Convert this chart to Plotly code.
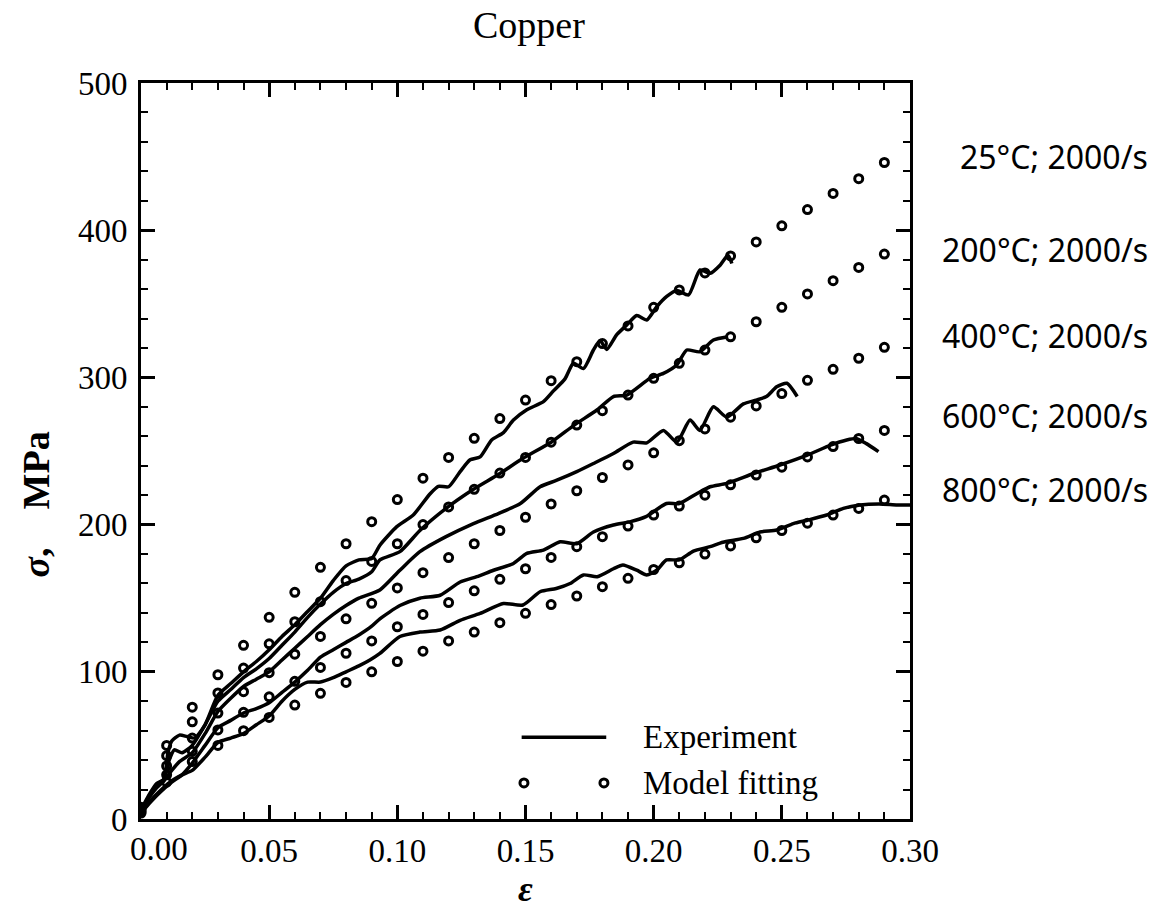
import plotly.graph_objects as go

# ---------------- data ----------------
# model-fitting points (strain step 0.01)
model_strain = [round(0.01 * i, 2) for i in range(30)]
model_25 = [8, 50, 76, 98, 118, 137, 154, 171, 187, 202, 217, 231.5, 245.6, 258.6, 272, 284.6,
            297.8, 310.7, 323, 335, 347.6, 359.4, 371, 382.5, 392, 403, 414, 425, 435, 446]
model_200 = [7, 43, 66, 85.6, 102.5, 119, 134, 147.6, 162, 175, 187, 200, 212, 224, 235, 245.6,
             256, 267.6, 277.4, 288, 299.4, 309.6, 318.6, 327.6, 337.8, 347.6, 356.7, 365.7, 374.7, 383.8]
model_400 = [6, 36, 55, 72, 86.5, 99.4, 112, 124, 136, 146.5, 157, 167.3, 177.6, 187, 196, 205,
             214, 223, 232, 240.5, 248.8, 257, 265, 273, 280.6, 289, 298, 305.5, 313, 320.4]
model_600 = [5, 30, 46, 60.5, 72.5, 83, 93.5, 103, 112.6, 121, 130.6, 139, 147, 155, 162.8, 170,
             177.7, 185, 191.8, 199, 206.5, 212.6, 220, 227, 233.7, 239, 246, 253, 258.5, 264]
model_800 = [4, 25, 39, 50, 60, 69, 77.4, 85.4, 92.8, 100, 107, 114, 121, 127, 133.4, 139.7,
             145.7, 151.5, 157.8, 163.5, 169.5, 174, 180, 185.5, 191, 196, 201, 206.5, 211, 216.7]

# experimental curves
exp_eps_25 = [0, 0.003, 0.006, 0.009, 0.0105, 0.012, 0.015, 0.018, 0.021, 0.025, 0.030, 0.035,
              0.040, 0.045, 0.050, 0.055, 0.060, 0.065, 0.070, 0.075, 0.080, 0.085, 0.090, 0.0932,
              0.0998, 0.1062, 0.1128, 0.116, 0.120, 0.1245, 0.1284, 0.1323, 0.1368, 0.1414, 0.1453,
              0.1505, 0.157, 0.161, 0.1654, 0.1687, 0.1726, 0.1765, 0.1791, 0.1817, 0.1856, 0.1895,
              0.1934, 0.1973, 0.2012, 0.2051, 0.209, 0.2136, 0.2181, 0.222, 0.226, 0.229, 0.2305]
exp_sig_25 = [6, 16, 24, 27, 45, 53, 57, 56, 55, 64, 84, 92, 100, 107, 115, 124, 132, 141, 150, 162,
              172, 176, 177, 186, 198.6, 206.5, 221, 226, 225.7, 236, 244, 246, 257.5, 262.5, 271,
              278, 283.5, 291, 299, 309.6, 306, 318.6, 325, 319, 329, 335.6, 342, 339, 348, 355,
              359, 356, 373, 370.7, 376.4, 383, 377.4]

exp_eps_200 = [0, 0.003, 0.006, 0.009, 0.011, 0.013, 0.016, 0.020, 0.025, 0.030, 0.035, 0.040,
               0.045, 0.050, 0.055, 0.060, 0.065, 0.070, 0.075, 0.080, 0.085, 0.090, 0.0932, 0.101,
               0.1088, 0.119, 0.1297, 0.1394, 0.149, 0.160, 0.169, 0.178, 0.1843, 0.1895, 0.1986,
               0.2038, 0.209, 0.2129, 0.218, 0.2233, 0.229]
exp_sig_200 = [6, 15, 23, 27, 40, 47, 45, 50, 64, 80, 88, 96, 102, 109, 118, 127, 137, 146, 154,
               160, 163, 168, 176, 181.6, 196, 211, 224, 234, 245, 256, 267.6, 278, 287, 288, 299.4,
               302.7, 308.4, 318.6, 317.4, 325.4, 327.6]

exp_eps_400 = [0, 0.003, 0.006, 0.009, 0.012, 0.015, 0.020, 0.025, 0.030, 0.035, 0.040, 0.045,
               0.050, 0.055, 0.060, 0.065, 0.070, 0.075, 0.080, 0.085, 0.0932, 0.101, 0.1088, 0.119,
               0.1297, 0.1394, 0.148, 0.1557, 0.162, 0.170, 0.1765, 0.1843, 0.192, 0.1973, 0.2038,
               0.209, 0.2142, 0.218, 0.2233, 0.2285, 0.235, 0.240, 0.244, 0.248, 0.252, 0.256]
exp_sig_400 = [5, 14, 21, 26, 33, 39, 45, 58, 73, 82, 90, 95, 100, 108, 116, 124, 132, 139, 145,
               150, 155.6, 169, 181.6, 191.8, 200.7, 207.5, 214.3, 225.7, 230, 236, 241.5, 248.3,
               256, 255.5, 264, 256, 271, 264, 280, 273, 282, 284.6, 287, 293.6, 296, 287]

exp_eps_600 = [0, 0.004, 0.008, 0.012, 0.016, 0.020, 0.025, 0.030, 0.035, 0.040, 0.045, 0.050,
               0.055, 0.060, 0.065, 0.070, 0.075, 0.080, 0.085, 0.090, 0.0932, 0.101, 0.1088, 0.1167,
               0.1245, 0.131, 0.1375, 0.1453, 0.1505, 0.157, 0.1635, 0.170, 0.1765, 0.1843, 0.191,
               0.197, 0.205, 0.21, 0.2168, 0.222, 0.2285, 0.239, 0.2493, 0.2597, 0.269, 0.2753,
               0.279, 0.283, 0.2877]
exp_sig_600 = [4, 12, 19, 25, 30, 38, 50, 62, 67, 72, 75, 79, 86, 93, 101, 110, 115, 120, 125,
               131, 136, 145, 150, 152, 161, 164.6, 169, 173.6, 180.4, 182.7, 188.3, 187, 195,
               199.7, 202, 205.4, 214.3, 214.3, 221, 225.7, 228, 234.7, 240.5, 247, 254, 257.5,
               258.5, 255, 249.6]

exp_eps_800 = [0, 0.004, 0.008, 0.012, 0.016, 0.020, 0.025, 0.030, 0.035, 0.040, 0.045, 0.050,
               0.055, 0.060, 0.065, 0.070, 0.075, 0.080, 0.085, 0.0893, 0.0932, 0.101, 0.1088,
               0.1167, 0.1245, 0.1323, 0.1414, 0.149, 0.1557, 0.162, 0.1674, 0.1726, 0.178, 0.1843,
               0.188, 0.1934, 0.1973, 0.2012, 0.205, 0.21, 0.2155, 0.222, 0.227, 0.235, 0.2415,
               0.248, 0.2545, 0.26, 0.2675, 0.274, 0.2805, 0.288, 0.295, 0.300]
exp_sig_800 = [4, 13, 20, 26, 30, 33, 42, 52, 55, 58, 64, 70, 80, 88, 93, 93, 96, 100, 104, 108,
               112.5, 124, 127, 128.4, 135, 139.7, 146.4, 145.4, 154.4, 156.6, 160, 165.8, 164.6,
               170, 172.6, 169, 165.8, 169, 176, 176, 182, 185, 188, 190.6, 195, 196.3, 200.7, 203,
               206.5, 211, 213.3, 214, 213.3, 213.3]

series_labels = ["25\u00b0C; 2000/s", "200\u00b0C; 2000/s", "400\u00b0C; 2000/s",
                 "600\u00b0C; 2000/s", "800\u00b0C; 2000/s"]

experiments = [(exp_eps_25, exp_sig_25), (exp_eps_200, exp_sig_200), (exp_eps_400, exp_sig_400),
               (exp_eps_600, exp_sig_600), (exp_eps_800, exp_sig_800)]
models = [model_25, model_200, model_400, model_600, model_800]

x_ticks = [0.0, 0.05, 0.10, 0.15, 0.20, 0.25, 0.30]
x_ticktext = ["0.00", "0.05", "0.10", "0.15", "0.20", "0.25", "0.30"]
y_ticks = [0, 100, 200, 300, 400, 500]

# ---------------- styling ----------------
SERIF = "Liberation Serif"
SANS = "Noto Sans"
TICK_SIZE = 33
label_lift = [4, 3, 8, 10, 7]          # MPa above each curve's last model point

fig = go.Figure()

for (ex, ey) in experiments:
    fig.add_trace(go.Scatter(
        x=ex, y=ey, mode="lines", line=dict(color="black", width=3.5, shape="spline", smoothing=0.6),
        showlegend=False, hoverinfo="skip"))

for my in models:
    fig.add_trace(go.Scatter(
        x=model_strain, y=my, mode="markers",
        marker=dict(symbol="circle-open", size=8, color="black", line=dict(width=3, color="black")),
        showlegend=False, hoverinfo="skip"))

# curve labels on the right, level with the end of each model curve
for lab, my, lift in zip(series_labels, models, label_lift):
    fig.add_annotation(x=1.312, xref="paper", y=my[-1] + lift, yref="y", text=lab,
                       showarrow=False, xanchor="right", yanchor="middle",
                       font=dict(family=SANS, size=32, color="black"))

# legend drawn inside the axes
leg_line_y = 0.111
leg_mark_y = 0.049
fig.add_shape(type="line", xref="paper", yref="paper", x0=0.495, x1=0.605,
              y0=leg_line_y, y1=leg_line_y, line=dict(color="black", width=3.5))
for cx in (0.498, 0.602):
    fig.add_shape(type="circle", xref="paper", yref="paper",
                  xsizemode="pixel", ysizemode="pixel", xanchor=cx, yanchor=leg_mark_y,
                  x0=-4, x1=4, y0=-4, y1=4, line=dict(color="black", width=3))
fig.add_annotation(x=0.650, xref="paper", y=leg_line_y, yref="paper", text="Experiment",
                   showarrow=False, xanchor="left", yanchor="middle",
                   font=dict(family=SERIF, size=33, color="black"))
fig.add_annotation(x=0.650, xref="paper", y=leg_mark_y, yref="paper", text="Model fitting",
                   showarrow=False, xanchor="left", yanchor="middle",
                   font=dict(family=SERIF, size=33, color="black"))

# title
fig.add_annotation(x=0.505, xref="paper", y=1.079, yref="paper", text="Copper",
                   showarrow=False, xanchor="center", yanchor="middle",
                   font=dict(family=SERIF, size=38, color="black"))

# y-axis caption, sitting a little below the axis middle
fig.add_annotation(x=-0.136, xref="paper", y=0.428, yref="paper",
                   text="<b><i>\u03c3</i>,\u00a0\u00a0\u00a0\u00a0MPa</b>", textangle=-90,
                   showarrow=False, xanchor="center", yanchor="middle",
                   font=dict(family=SERIF, size=38, color="black"))

# first strain label nudged right, clear of the stress "0"
fig.add_annotation(x=x_ticks[0], xref="x", y=0, yref="paper", text=x_ticktext[0],
                   showarrow=False, xanchor="center", yanchor="top", xshift=18, yshift=-10,
                   font=dict(family=SERIF, size=TICK_SIZE, color="black"))

axis_common = dict(
    showline=True, linecolor="black", linewidth=3, mirror="allticks",
    ticks="inside", ticklen=14, tickwidth=2.5, tickcolor="black",
    showgrid=False, zeroline=False,
    tickfont=dict(family=SERIF, size=TICK_SIZE, color="black"),
)

fig.update_xaxes(
    range=[0, 0.30], tickvals=x_ticks, ticktext=[""] + x_ticktext[1:],
    minor=dict(dtick=0.01, ticks="inside", ticklen=7, tickwidth=2, tickcolor="black"),
    title=dict(text="<b><i>\u03b5</i></b>", font=dict(family=SERIF, size=36, color="black"),
               standoff=4),
    **axis_common)
fig.update_yaxes(
    range=[0, 500], tickvals=y_ticks, ticklabelstandoff=4,
    minor=dict(dtick=20, ticks="inside", ticklen=7, tickwidth=2, tickcolor="black"),
    **axis_common)

fig.update_layout(
    width=1155, height=913,
    margin=dict(l=141, r=245, t=83, b=94),
    paper_bgcolor="white", plot_bgcolor="white",
)

fig.write_html("out.html")
